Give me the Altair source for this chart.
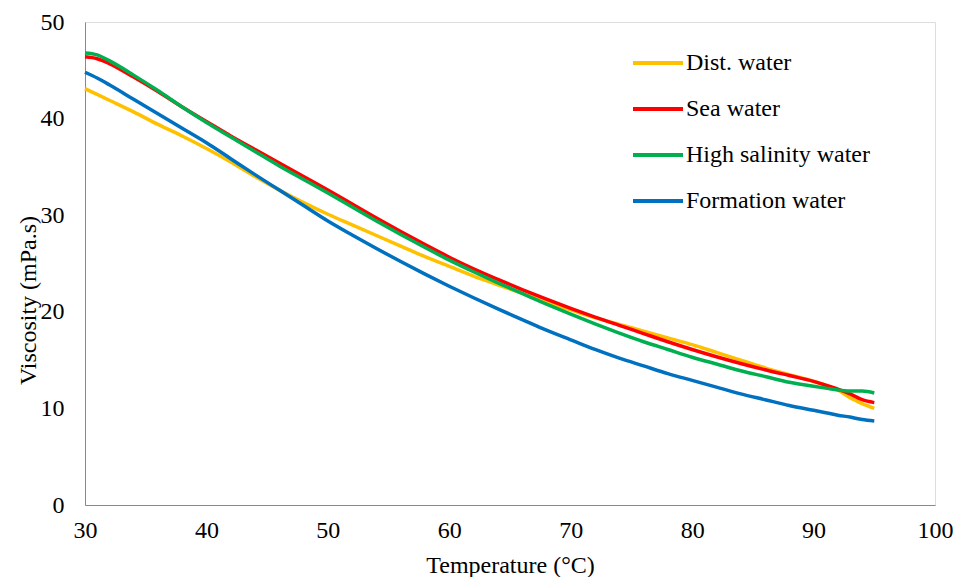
import altair as alt
import pandas as pd

temps = [30, 31, 32, 34, 36, 38, 40, 42, 44, 46, 48, 50, 52, 54, 56, 58, 60, 62, 64, 66, 68, 70,
         72, 74, 76, 78, 80, 82, 84, 86, 88, 90, 91, 92, 93, 94, 95]

dist_water = [43.1, 42.5, 41.9, 40.7, 39.4, 38.2, 36.9, 35.5, 34.0, 32.6, 31.3, 30.1, 29.0, 27.9,
              26.8, 25.7, 24.7, 23.7, 22.8, 21.9, 21.0, 20.2, 19.4, 18.7, 18.0, 17.3, 16.6, 15.8,
              15.0, 14.2, 13.5, 12.8, 12.4, 11.9, 11.1, 10.5, 10.0]
sea_water = [46.4, 46.2, 45.7, 44.3, 42.8, 41.2, 39.7, 38.2, 36.8, 35.4, 34.0, 32.6, 31.15, 29.7,
             28.3, 26.95, 25.65, 24.45, 23.35, 22.3, 21.3, 20.35, 19.45, 18.6, 17.75, 16.9, 16.1,
             15.35, 14.65, 14.0, 13.4, 12.8, 12.4, 12.0, 11.5, 10.9, 10.6]
high_salinity = [46.8, 46.6, 46.0, 44.5, 42.9, 41.2, 39.6, 38.1, 36.6, 35.1, 33.7, 32.3, 30.85,
                 29.4, 28.0, 26.65, 25.35, 24.15, 23.0, 21.9, 20.8, 19.75, 18.75, 17.8, 16.9,
                 16.1, 15.3, 14.6, 13.9, 13.3, 12.7, 12.3, 12.1, 11.9, 11.8, 11.8, 11.6]
formation = [44.8, 44.2, 43.5, 42.0, 40.5, 39.0, 37.5, 35.85, 34.2, 32.6, 31.0, 29.4, 27.95,
             26.55, 25.2, 23.9, 22.65, 21.45, 20.3, 19.2, 18.1, 17.1, 16.1, 15.2, 14.4, 13.6,
             12.9, 12.2, 11.5, 10.9, 10.3, 9.8, 9.55, 9.3, 9.1, 8.85, 8.7]

series_names = ["Dist. water", "Sea water", "High salinity water", "Formation water"]
series_colors = ["#FFC000", "#FF0000", "#00B050", "#0070C0"]
series_values = [dist_water, sea_water, high_salinity, formation]

rows = []
for name, vals in zip(series_names, series_values):
    for t, v in zip(temps, vals):
        rows.append({"Temperature": t, "Viscosity": v, "Series": name})
df = pd.DataFrame(rows)

FONT = "Liberation Serif"

chart = alt.Chart(df).mark_line(strokeWidth=3.5, interpolate="monotone").encode(
    x=alt.X("Temperature:Q",
            scale=alt.Scale(domain=[30, 100], nice=False, zero=False),
            axis=alt.Axis(values=[30, 40, 50, 60, 70, 80, 90, 100], title="Temperature (°C)",
                          grid=False, ticks=False, labelPadding=13, labelFontSize=24,
                          labelFont=FONT, titleFont=FONT, labelColor="black", titleColor="black",
                          titleFontSize=24, titleFontWeight="normal", titleY=67,
                          titleBaseline="alphabetic", labelFlush=False)),
    y=alt.Y("Viscosity:Q",
            scale=alt.Scale(domain=[0, 50], nice=False),
            axis=alt.Axis(values=[0, 10, 20, 30, 40, 50], title="Viscosity (mPa.s)",
                          grid=False, ticks=False, labelPadding=21, labelFontSize=24,
                          labelFont=FONT, titleFont=FONT, labelColor="black", titleColor="black",
                          titleFontSize=24, titleFontWeight="normal", titleX=-57, titleY=278,
                          titleAngle=-90, titleAlign="center", titleBaseline="middle",
                          labelFlush=False)),
    color=alt.Color("Series:N",
                    scale=alt.Scale(domain=series_names, range=series_colors),
                    sort=series_names,
                    legend=alt.Legend(title=None, orient="none", legendX=546, legendY=14,
                                      symbolType="stroke", symbolSize=2500,
                                      symbolStrokeWidth=4, labelFontSize=24, labelFont=FONT,
                                      labelColor="black",
                                      rowPadding=7, labelOffset=1, padding=0,
                                      labelLimit=400)),
).properties(
    width=850, height=483,
    autosize=alt.AutoSizeParams(type="none"),
    padding={"left": 85, "top": 22, "right": 27, "bottom": 72},
).configure_axis(
    domainColor="black", domainWidth=2,
).configure_view(
    stroke="black", strokeWidth=2,
).configure(background="white")

chart.save("out.html", embed_options={"renderer": "svg", "actions": False})
